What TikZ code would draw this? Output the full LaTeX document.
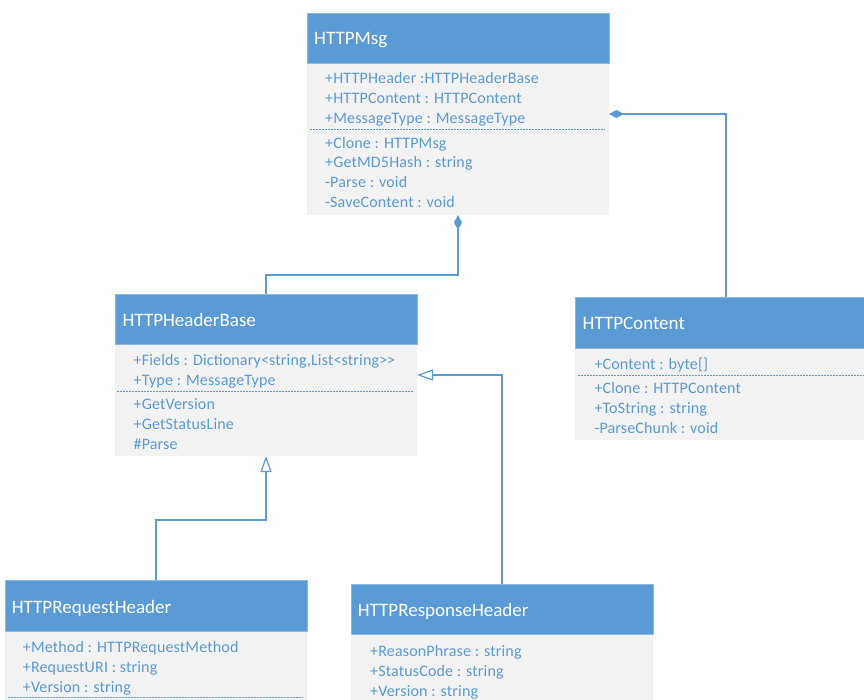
\documentclass[tikz,border=0pt]{standalone}
\usepackage{fontspec}
\setmainfont{Carlito}
\newfontfamily\memberfont[LetterSpace=1]{Carlito}
\usetikzlibrary{arrows.meta,calc}
\definecolor{umlblue}{HTML}{5B9BD5}
\definecolor{umlgray}{HTML}{F2F2F2}
\definecolor{umltext}{HTML}{5B9BD5}
\definecolor{umlline}{HTML}{5B9BD5}
\tikzset{
  classhead/.style={fill=umlblue, draw=umlblue!70!white, line width=0.5pt,
    minimum width=302pt, minimum height=50pt, anchor=north west, inner sep=0pt, outer sep=0pt},
  classbody/.style={fill=umlgray, minimum width=302pt, anchor=north west, inner sep=0pt, outer sep=0pt},
  title/.style={anchor=base west, inner sep=0pt, text=white, font=\fontsize{19}{22}\selectfont},
  member/.style={anchor=base west, inner sep=0pt, text=umltext, font=\memberfont\fontsize{16}{18}\selectfont},
  sepline/.style={draw=umltext, line width=0.8pt, dash pattern=on 2pt off 1pt},
  link/.style={draw=umlline, line width=1.2pt},
  comp/.style={link, {Diamond[length=15pt,width=8pt,fill=umlline]}-},
  gen/.style={link, -{Triangle[open,length=16pt,width=11pt,fill=white]}}
}
\begin{document}
\begin{tikzpicture}[x=1pt,y=-1pt]
\clip (0,0) rectangle (864,699);
\fill[white] (0,0) rectangle (864,699);

% HTTPMsg
\node[classbody, minimum height=152pt] (msgb) at (307,63) {};
\node[classhead] (msgh) at (307,13) {};
\node[title] (msgt) at (314,44) {HTTPMsg};
\node[member] (msg1) at (325,83.3) {+HTTPHeader :HTTPHeaderBase};
\node[member] (msg2) at (325,103.3) {+HTTPContent : HTTPContent};
\node[member] (msg3) at (325,123.3) {+MessageType : MessageType};
\draw[sepline] (310,129.5) -- (605,129.5);
\node[member] (msg4) at (325,148.3) {+Clone : HTTPMsg};
\node[member] (msg5) at (325,167.3) {+GetMD5Hash : string};
\node[member] (msg6) at (325,187.3) {-Parse : void};
\node[member] (msg7) at (325,207.3) {-SaveContent : void};

% HTTPHeaderBase
\node[classbody, minimum height=112pt] (hbb) at (115,344) {};
\node[classhead] (hbh) at (115,294) {};
\node[title] (hbt) at (122.5,326) {HTTPHeaderBase};
\node[member] (hb1) at (133.5,365.3) {+Fields : Dictionary<string,List<string>\kern0pt>};
\node[member] (hb2) at (133.5,385.3) {+Type : MessageType};
\draw[sepline] (117,391) -- (413,391);
\node[member] (hb3) at (133.5,409.3) {+GetVersion};
\node[member] (hb4) at (133.5,429.3) {+GetStatusLine};
\node[member] (hb5) at (133.5,449.3) {\#Parse};

% HTTPContent
\node[classbody, minimum height=92pt] (cb) at (575,348) {};
\node[classhead, minimum height=51pt] (ch) at (575,297) {};
\node[title] (ct) at (582.5,329) {HTTPContent};
\node[member] (c1) at (594.3,369) {+Content : byte[]};
\draw[sepline] (578,375.7) -- (864,375.7);
\node[member] (c2) at (594.3,393.3) {+Clone : HTTPContent};
\node[member] (c3) at (594.3,413.3) {+ToString : string};
\node[member] (c4) at (594.3,433.3) {-ParseChunk : void};

% HTTPRequestHeader
\node[classbody, minimum height=100pt] (rqb) at (5,631) {};
\node[classhead, minimum height=51pt] (rqh) at (5,580) {};
\node[title] (rqt) at (11.7,613.3) {HTTPRequestHeader};
\node[member] (rq1) at (22.7,652) {+Method : HTTPRequestMethod};
\node[member] (rq2) at (22.7,672) {+RequestURI : string};
\node[member] (rq3) at (22.7,692) {+Version : string};
\draw[sepline] (8,697) -- (303,697);

% HTTPResponseHeader
\node[classbody, minimum height=100pt] (rsb) at (351,634) {};
\node[classhead] (rsh) at (351,584) {};
\node[title] (rst) at (357.7,616.7) {HTTPResponseHeader};
\node[member] (rs1) at (370,656) {+ReasonPhrase : string};
\node[member] (rs2) at (370,676) {+StatusCode : string};
\node[member] (rs3) at (370,696) {+Version : string};

% connectors
\coordinate (msgC) at ($(msgb.north east)+(0,51)$);
\coordinate (hbR) at ($(hbb.north east)+(0,31)$);
\draw[comp] (msgb.south) -- ++(0,60) -| (hbh.north);
\draw[comp] (msgC) -| (ch.north);
\draw[gen] (rqh.north) -- ++(0,-60) -| (hbb.south);
\draw[gen] (rsh.north) |- (hbR);
\end{tikzpicture}
\end{document}
